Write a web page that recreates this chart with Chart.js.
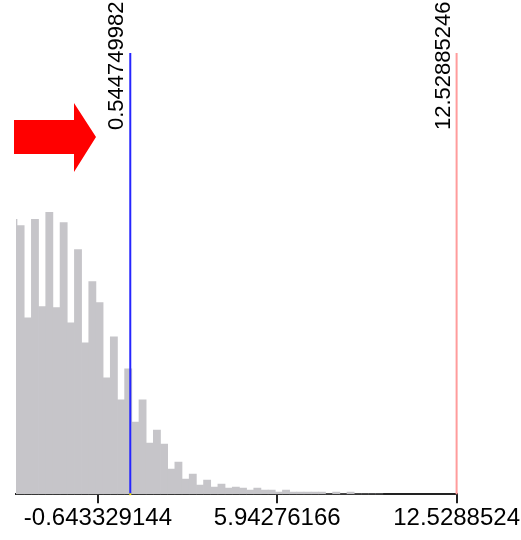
<!DOCTYPE html>
<html>
<head>
<meta charset="utf-8">
<script src="https://cdn.jsdelivr.net/npm/chart.js@4/dist/chart.umd.min.js"></script>
<style>
  html, body { margin: 0; padding: 0; background: #fff; }
  #wrap { width: 521px; height: 540px; }
</style>
</head>
<body>
<div id="wrap"><canvas id="histChart"></canvas></div>
<script>
// histogram bins: first bin starts at binStart, each bin is binWidth wide
const binStart = -3.8776; // left edge of first bin (partly clipped)
const binWidth = 0.2634436;
const counts = [274, 268, 176, 274, 187, 281, 186, 271, 171, 244, 151, 212,
    191, 116, 157, 94, 125, 72, 94, 51, 64, 50, 25, 32, 15, 20, 9, 14, 7, 10,
    6, 7, 6, 4, 6, 4, 4, 2, 4, 2, 2, 2, 2, 2, 0, 2, 0, 2, 0, 0, 0, 0];

// axis
const xMin = -3.652;
const xMax = 12.5288524;
const tickValues = [-0.643329144, 5.94276166, 12.5288524];
const tickLabels = ['-0.643329144', '5.94276166', '12.5288524'];

// marker lines
const markerValues = [0.544749982, 12.52885246];
const markerLabels = ['0.544749982', '12.52885246'];
const markerColors = ['#2626ff', '#ff9c9c'];

const points = counts.map((c, i) => ({ x: binStart + binWidth * (i + 0.5), y: c }));

const markerPlugin = {
    id: 'markers',
    afterDatasetsDraw(chart) {
        const { ctx, chartArea, scales } = chart;
        ctx.save();
        markerValues.forEach((v, i) => {
            const x = scales.x.getPixelForValue(v);
            ctx.strokeStyle = markerColors[i];
            ctx.lineWidth = 2;
            ctx.beginPath();
            ctx.moveTo(x, chartArea.top);
            ctx.lineTo(x, chartArea.bottom);
            ctx.stroke();

            ctx.save();
            ctx.translate(x - 13, chartArea.top + 77);
            ctx.rotate(-Math.PI / 2);
            ctx.fillStyle = '#000';
            ctx.font = '22px "Liberation Sans", Arial, sans-serif';
            ctx.textAlign = 'left';
            ctx.textBaseline = 'middle';
            ctx.fillText(markerLabels[i], 0, 0);
            ctx.restore();
        });

        // small yellow dot where the first marker meets the axis
        const mx = scales.x.getPixelForValue(markerValues[0]);
        ctx.fillStyle = '#f0e000';
        ctx.fillRect(mx - 1, chartArea.bottom - 1, 2, 2);

        // red arrow pointing at the first marker label
        const ax = chartArea.left - 2;
        const ay = chartArea.top + 84;
        ctx.fillStyle = '#ff0000';
        ctx.beginPath();
        ctx.moveTo(ax, ay - 17);
        ctx.lineTo(ax + 60, ay - 17);
        ctx.lineTo(ax + 60, ay - 34);
        ctx.lineTo(ax + 82, ay);
        ctx.lineTo(ax + 60, ay + 35);
        ctx.lineTo(ax + 60, ay + 17);
        ctx.lineTo(ax, ay + 17);
        ctx.closePath();
        ctx.fill();
        ctx.restore();
    }
};

document.addEventListener("DOMContentLoaded", () => {
    const ctx = document.getElementById('histChart').getContext('2d');
    new Chart(ctx, {
        type: 'bar',
        data: {
            datasets: [{
                data: points,
                backgroundColor: '#c6c5c9',
                borderWidth: 0,
                barPercentage: 1.0,
                categoryPercentage: 1.0
            }]
        },
        options: {
            responsive: true,
            maintainAspectRatio: false,
            animation: false,
            layout: { padding: { left: 16, right: 63, top: 53, bottom: 6 } },
            plugins: { legend: { display: false }, tooltip: { enabled: false } },
            scales: {
                x: {
                    type: 'linear',
                    offset: false,
                    min: xMin,
                    max: xMax,
                    afterBuildTicks: (scale) => {
                        scale.ticks = tickValues.map(v => ({ value: v }));
                    },
                    grid: {
                        display: true,
                        offset: false,
                        drawOnChartArea: false,
                        drawTicks: true,
                        tickLength: 9,
                        color: '#222',
                        lineWidth: 2
                    },
                    border: { display: true, color: '#222', width: 2 },
                    ticks: {
                        autoSkip: false,
                        maxRotation: 0,
                        padding: 1,
                        color: '#000',
                        font: { family: '"Liberation Sans", Arial, sans-serif', size: 24 },
                        callback: (value, index) => tickLabels[index]
                    }
                },
                y: {
                    display: false,
                    min: 0,
                    max: 440
                }
            }
        },
        plugins: [markerPlugin]
    });
});
</script>
</body>
</html>
